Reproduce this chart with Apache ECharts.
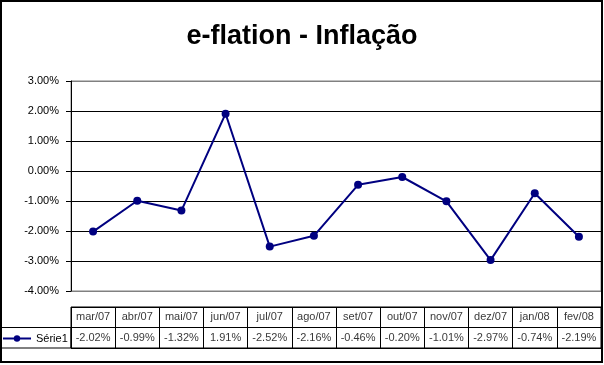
<!DOCTYPE html>
<html>
<head>
<meta charset="utf-8">
<script src="https://cdn.jsdelivr.net/npm/echarts@6/dist/echarts.min.js"></script>
<style>
html,body{margin:0;padding:0;background:#fff;}
#c{width:604px;height:365px;}
</style>
</head>
<body>
<div id="c"></div>
<script>
const titleText = 'e-flation - Inflação';
const seriesName = 'Série1';
const categories = ['mar/07','abr/07','mai/07','jun/07','jul/07','ago/07','set/07','out/07','nov/07','dez/07','jan/08','fev/08'];
const values = [-2.02, -0.99, -1.32, 1.91, -2.52, -2.16, -0.46, -0.20, -1.01, -2.97, -0.74, -2.19];
const yMin = -4, yMax = 3, yStep = 1;
const rowKeys = ['head', 'val'];

const FONT = 'Arial, "Liberation Sans", sans-serif';
const fmt = v => v.toFixed(2) + '%';

const headerCells = categories.map(c => [c, 'head', c]);
const valueCells = categories.map((c, i) => [c, 'val', values[i]]);

const chart = echarts.init(document.getElementById('c'), null, {renderer: 'canvas'});
chart.setOption({
  animation: false,
  backgroundColor: '#fff',
  title: {
    text: titleText,
    left: 'center',
    top: 18,
    textStyle: {fontFamily: FONT, fontSize: 27, fontWeight: 'bold', color: '#000'}
  },
  legend: {
    data: [seriesName],
    left: 0,
    top: 328,
    itemWidth: 28,
    itemHeight: 8,
    itemGap: 0,
    padding: [5, 0, 5, 2],
    textStyle: {fontFamily: FONT, fontSize: 11, color: '#000'}
  },
  grid: [
    {left: 71, right: 3, top: 81, bottom: 74, show: true, borderColor: '#808080', borderWidth: 1, backgroundColor: 'transparent'},
    {left: 71, right: 3, top: 307, height: 41, show: true, borderColor: '#000', borderWidth: 1}
  ],
  xAxis: [
    {type: 'category', gridIndex: 0, data: categories, boundaryGap: true,
     axisLine: {show: false}, axisTick: {show: false}, axisLabel: {show: false}, splitLine: {show: false}},
    {type: 'category', gridIndex: 1, data: categories, boundaryGap: true,
     axisLine: {show: false}, axisTick: {show: false}, axisLabel: {show: false},
     splitLine: {show: true, interval: 0, lineStyle: {color: '#000', width: 1}}}
  ],
  yAxis: [
    {type: 'value', gridIndex: 0, min: yMin, max: yMax, interval: yStep,
     axisLine: {show: true, lineStyle: {color: '#000', width: 1}},
     axisTick: {show: true, inside: false, length: 5, lineStyle: {color: '#000'}},
     axisLabel: {formatter: v => fmt(v), fontFamily: FONT, fontSize: 11, color: '#000', margin: 12},
     splitLine: {show: true, lineStyle: {color: ['#808080','#000','#000','#000','#000','#000','#000','#808080'], width: 1}}},
    {type: 'category', gridIndex: 1, data: rowKeys, inverse: true,
     axisLine: {show: false}, axisTick: {show: false}, axisLabel: {show: false},
     splitLine: {show: true, interval: 0, lineStyle: {color: '#000', width: 1}}}
  ],
  series: [
    {
      name: seriesName,
      type: 'line',
      xAxisIndex: 0, yAxisIndex: 0,
      data: values,
      symbol: 'circle',
      symbolSize: 8,
      lineStyle: {color: '#000080', width: 2},
      itemStyle: {color: '#000080'},
      z: 5
    },
    {
      name: 'header',
      type: 'scatter',
      xAxisIndex: 1, yAxisIndex: 1,
      data: headerCells,
      symbolSize: 1,
      itemStyle: {color: 'rgba(0,0,0,0)'},
      label: {show: true, position: 'inside', formatter: p => p.value[2],
              fontFamily: FONT, fontSize: 11, color: '#000'},
      silent: true
    },
    {
      name: 'values',
      type: 'scatter',
      xAxisIndex: 1, yAxisIndex: 1,
      data: valueCells,
      symbolSize: 1,
      itemStyle: {color: 'rgba(0,0,0,0)'},
      label: {show: true, position: 'inside', formatter: p => fmt(p.value[2]),
              fontFamily: FONT, fontSize: 11, color: '#000'},
      silent: true
    }
  ],
  graphic: [
    {type: 'rect', shape: {x: 1, y: 1, width: 601, height: 361}, style: {fill: 'none', stroke: '#000', lineWidth: 2}, z: 100, silent: true},
    {type: 'rect', shape: {x: 1.5, y: 327.5, width: 69.5, height: 20.5}, style: {fill: 'none', stroke: '#000', lineWidth: 1}, z: 100, silent: true}
  ]
});
</script>
</body>
</html>
